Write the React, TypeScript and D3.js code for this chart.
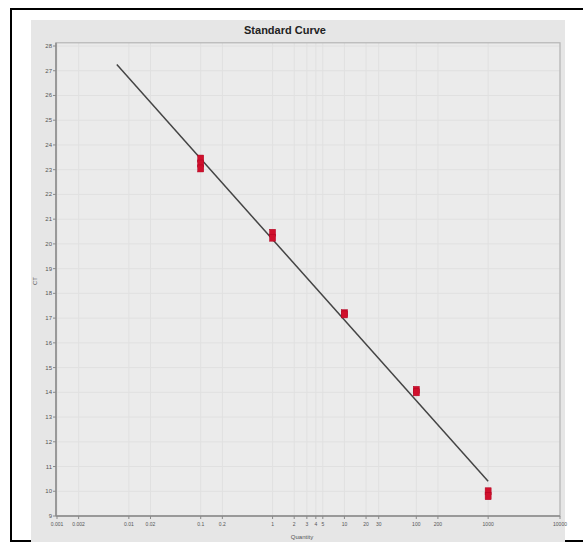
import React, { useRef, useEffect } from 'react';
import * as d3 from 'd3';

// Replicate CT values per standard quantity
const quantities = [0.1, 1, 10, 100, 1000];
const ctReplicates = [
  [23.45, 23.25, 23.05],
  [20.45, 20.25],
  [17.2, 17.15],
  [14.1, 14.0],
  [10.0, 9.8],
];

// Fitted standard curve end points
const fitQuantity = [0.0068, 1000];
const fitCt = [27.25, 10.4];

const yTicks = [9, 10, 11, 12, 13, 14, 15, 16, 17, 18, 19, 20, 21, 22, 23, 24, 25, 26, 27, 28];
const xTicks = [0.001, 0.002, 0.01, 0.02, 0.1, 0.2, 1, 2, 3, 4, 5, 10, 20, 30, 100, 200, 1000, 10000];
const xTickLabels = ['0.001', '0.002', '0.01', '0.02', '0.1', '0.2', '1', '2', '3', '4', '5', '10', '20', '30', '100', '200', '1000', '10000'];

const W = 583;
const H = 542;

const App = () => {
  const svgRef = useRef<SVGSVGElement>(null);

  useEffect(() => {
    const svg = d3.select(svgRef.current);
    svg.selectAll('*').remove();

    // outer frame (runs off the right edge)
    svg.append('rect')
      .attr('x', 11).attr('y', 9)
      .attr('width', 800).attr('height', 532)
      .attr('fill', '#fff')
      .attr('stroke', '#000')
      .attr('stroke-width', 2);

    // gray panel
    svg.append('rect')
      .attr('x', 31).attr('y', 20)
      .attr('width', 534).attr('height', 530)
      .attr('fill', '#e6e6e6');

    const x = d3.scaleLog().domain([0.001, 10000]).range([57, 560]);
    const y = d3.scaleLinear().domain([9, 28]).range([516, 46]);

    const top = y(28.13);
    const left = 56;
    const right = 560;
    const bottom = 516;

    // plot background
    svg.append('rect')
      .attr('x', left).attr('y', top)
      .attr('width', right - left).attr('height', bottom - top)
      .attr('fill', '#ebebeb');

    // grid
    const grid = svg.append('g');
    grid.selectAll('.hg')
      .data(yTicks)
      .enter()
      .append('line')
      .attr('x1', left).attr('x2', right)
      .attr('y1', d => y(d)).attr('y2', d => y(d))
      .attr('stroke', '#e0e0e0')
      .attr('stroke-width', 1);
    grid.selectAll('.vg')
      .data(xTicks)
      .enter()
      .append('line')
      .attr('x1', d => x(d)).attr('x2', d => x(d))
      .attr('y1', top).attr('y2', bottom)
      .attr('stroke', '#e0e0e0')
      .attr('stroke-width', 1);

    // plot frame
    svg.append('rect')
      .attr('x', left).attr('y', top)
      .attr('width', right - left).attr('height', bottom - top)
      .attr('fill', 'none')
      .attr('stroke', '#b5b5b5')
      .attr('stroke-width', 1.2);
    svg.append('line')
      .attr('x1', left).attr('x2', left)
      .attr('y1', top).attr('y2', bottom)
      .attr('stroke', '#8a8a8a').attr('stroke-width', 1.5);
    svg.append('line')
      .attr('x1', left).attr('x2', right)
      .attr('y1', bottom).attr('y2', bottom)
      .attr('stroke', '#8a8a8a').attr('stroke-width', 1.5);

    // y axis labels
    svg.append('g')
      .selectAll('text')
      .data(yTicks)
      .enter()
      .append('text')
      .attr('x', 52)
      .attr('y', d => y(d) + 2)
      .attr('text-anchor', 'end')
      .attr('font-family', 'Arial, "Liberation Sans", sans-serif')
      .attr('font-size', '6px')
      .attr('fill', '#555')
      .text(d => d);
    svg.append('g')
      .selectAll('line')
      .data(yTicks)
      .enter()
      .append('line')
      .attr('x1', left - 3).attr('x2', left)
      .attr('y1', d => y(d)).attr('y2', d => y(d))
      .attr('stroke', '#8a8a8a');

    // x axis labels
    svg.append('g')
      .selectAll('text')
      .data(xTicks)
      .enter()
      .append('text')
      .attr('x', d => x(d))
      .attr('y', bottom + 10)
      .attr('text-anchor', 'middle')
      .attr('font-family', 'Arial, "Liberation Sans", sans-serif')
      .attr('font-size', '5px')
      .attr('fill', '#555')
      .text((d, i) => xTickLabels[i]);
    svg.append('g')
      .selectAll('line')
      .data(xTicks)
      .enter()
      .append('line')
      .attr('x1', d => x(d)).attr('x2', d => x(d))
      .attr('y1', bottom).attr('y2', bottom + 3)
      .attr('stroke', '#8a8a8a');

    // title
    svg.append('text')
      .attr('x', 285)
      .attr('y', 34)
      .attr('text-anchor', 'middle')
      .attr('font-family', 'Arial, "Liberation Sans", sans-serif')
      .attr('font-size', '11px')
      .attr('font-weight', 'bold')
      .attr('fill', '#222')
      .text('Standard Curve');

    // axis titles
    svg.append('text')
      .attr('x', 302)
      .attr('y', 539)
      .attr('text-anchor', 'middle')
      .attr('font-family', 'Arial, "Liberation Sans", sans-serif')
      .attr('font-size', '6px')
      .attr('fill', '#555')
      .text('Quantity');
    svg.append('text')
      .attr('transform', 'rotate(-90)')
      .attr('x', -281)
      .attr('y', 37)
      .attr('text-anchor', 'middle')
      .attr('font-family', 'Arial, "Liberation Sans", sans-serif')
      .attr('font-size', '6px')
      .attr('fill', '#555')
      .text('CT');

    // fitted line
    const line = d3.line<number>()
      .x(d => x(d))
      .y((d, i) => y(fitCt[i]));
    svg.append('path')
      .attr('d', line(fitQuantity))
      .attr('fill', 'none')
      .attr('stroke', '#444')
      .attr('stroke-width', 1.5);

    // replicate points
    const points = quantities.flatMap((q, i) => ctReplicates[i].map(ct => ({ q, ct })));
    svg.append('g')
      .selectAll('rect')
      .data(points)
      .enter()
      .append('rect')
      .attr('x', d => x(d.q) - 3)
      .attr('y', d => y(d.ct) - 3.5)
      .attr('width', 6)
      .attr('height', 7)
      .attr('fill', '#d0102c')
      .attr('stroke', '#b00020')
      .attr('stroke-width', 0.5);
  }, []);

  return (
    <svg
      ref={svgRef}
      width={W}
      height={H}
      style={{ position: 'absolute', left: 0, top: 0, display: 'block' }}
    />
  );
};

export default App;
